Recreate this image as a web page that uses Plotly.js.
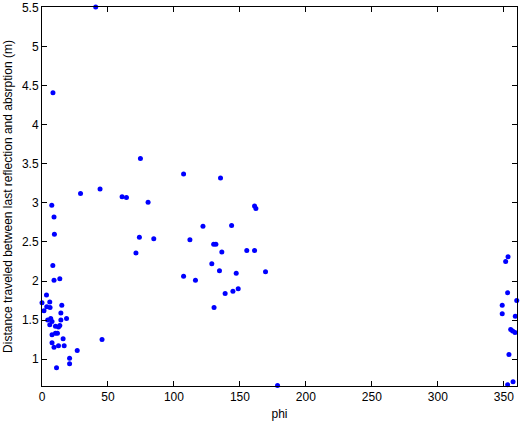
<!DOCTYPE html>
<html>
<head>
<meta charset="utf-8">
<script src="https://cdn.plot.ly/plotly-3.0.1.min.js"></script>
<style>html,body{margin:0;padding:0;background:#fff;}#chart{width:527px;height:425px;}</style>
</head>
<body>
<div id="chart"></div>
<script>
// phi (degrees) and distance (m)
const phi = [
  9.4, 8.2, 9.1, 13.5, 3.4, 0, 5.9, 15, 3.6, 6.1, 1.5, 14.3, 6.6, 18.6, 4.3, 7.6,
  14.3, 10.2, 5.9, 13.5, 12.5, 7.6, 10.2, 11.7, 16, 45.5, 7.6, 12.5, 9.1, 16.8,
  26.7, 20.9, 20.9, 11, 7.4, 9.1, 8.3, 40.7,
  74.6, 107.3, 135.3, 29.2, 44, 60.7, 64, 80.4, 122, 73.8, 71.2, 84.7, 112.1,
  130.1, 131.8, 136.3, 128.7, 161.1, 162.1, 143.7, 155.2, 161.1, 134.5, 147.2,
  169.4, 107.3, 116.3, 148.7, 144.7, 138.8, 130.4, 178.5,
  353.2, 351.4, 352.9, 348.8, 359.8, 348.8, 358.7, 355.2, 356.7, 358.5, 353.9,
  352.9, 357
];
const distance = [
  2.60, 2.20, 2.01, 2.03, 1.82, 1.72, 1.73, 1.69, 1.67, 1.66, 1.62, 1.59, 1.52, 1.52, 1.50, 1.48,
  1.50, 1.42, 1.44, 1.43, 1.41, 1.31, 1.33, 1.33, 1.26, 1.25, 1.21, 1.17, 1.15, 1.17,
  1.11, 1.01, 0.94, 0.89, 2.97, 2.82, 4.41, 5.51,
  3.57, 3.37, 3.32, 3.12, 3.18, 3.08, 3.07, 3.01, 2.70, 2.56, 2.36, 2.54, 2.53,
  2.47, 2.47, 2.37, 2.22, 2.96, 2.93, 2.71, 2.39, 2.39, 2.13, 2.10,
  2.12, 2.06, 2.01, 1.90, 1.87, 1.84, 1.66, 0.66,
  2.31, 2.25, 1.85, 1.69, 1.75, 1.58, 1.55, 1.38, 1.36, 1.34, 1.06,
  0.67, 0.71
];
const xTicks = [0, 50, 100, 150, 200, 250, 300, 350];
const yTicks = [1, 1.5, 2, 2.5, 3, 3.5, 4, 4.5, 5, 5.5];

const font = {family: 'Liberation Sans, Arial, sans-serif', size: 12, color: '#000'};
Plotly.newPlot('chart', [{
  x: phi, y: distance, type: 'scatter', mode: 'markers',
  marker: {color: '#0000ff', size: 5}, cliponaxis: false, hoverinfo: 'none'
}], {
  width: 527, height: 425,
  margin: {l: 42, r: 10, t: 7, b: 39, autoexpand: false},
  paper_bgcolor: '#fff', plot_bgcolor: '#fff',
  font: font, showlegend: false,
  xaxis: {
    range: [0, 360], tickvals: xTicks, ticktext: xTicks.map(String),
    ticks: 'inside', ticklen: 5, tickcolor: '#000', showline: true, linecolor: '#000',
    mirror: 'ticks', showgrid: false, zeroline: false, tickfont: font, automargin: false,
    title: {text: 'phi', font: font, standoff: 6}
  },
  yaxis: {
    range: [0.655, 5.51], tickvals: yTicks, ticktext: yTicks.map(String),
    ticks: 'inside', ticklen: 5, tickcolor: '#000', showline: true, linecolor: '#000',
    mirror: 'ticks', showgrid: false, zeroline: false, tickfont: font, automargin: false,
    title: {text: 'Distance traveled between last reflection and absrption (m)', font: font, standoff: 6}
  }
}, {staticPlot: true});
</script>
</body>
</html>
